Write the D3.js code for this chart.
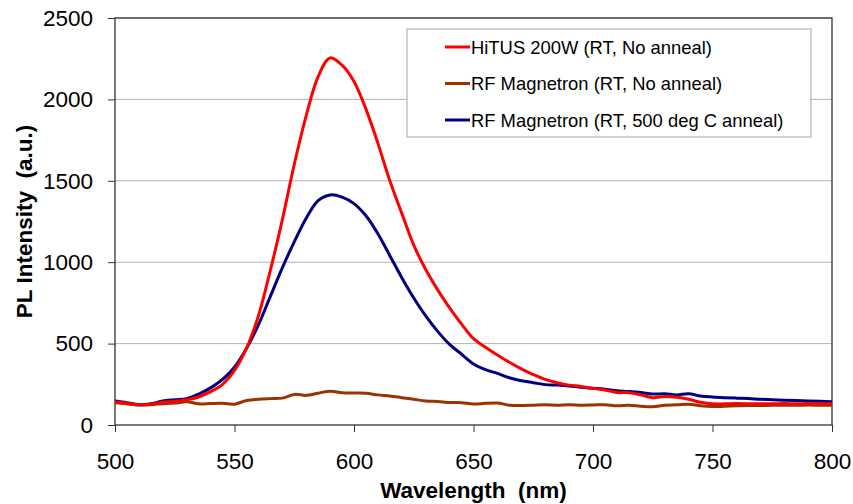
<!DOCTYPE html>
<html>
<head>
<meta charset="utf-8">
<script src="https://cdn.jsdelivr.net/npm/d3@7"></script>
<style>
  body { margin: 0; background: #fff; }
  svg text { font-family: Arial, "Liberation Sans", sans-serif; }
</style>
</head>
<body>
<div id="chart"></div>
<script>
// PL spectra: HiTUS vs RF magnetron films

const wavelengths = [500,505,510,515,520,525,530,535,540,545,550,555,560,565,570,575,580,585,590,595,
  600,605,610,615,620,625,630,635,640,645,650,655,660,665,670,675,680,685,690,695,
  700,705,710,715,720,725,730,735,740,745,750,755,760,765,770,775,780,785,790,795,800];

const hitus = [142,133,124,128,140,146,155,172,205,250,335,470,670,950,1260,1600,1900,2140,2255,2210,
  2110,1940,1730,1500,1300,1105,955,830,720,620,530,478,430,385,345,310,280,260,245,237,
  225,215,200,198,185,168,175,170,158,140,130,130,132,130,130,130,132,130,132,130,130];

const rfNoAnneal = [137,130,123,125,130,135,143,130,132,133,128,150,158,162,165,188,182,195,208,198,
  196,195,185,178,168,158,148,145,138,137,129,133,135,122,120,122,124,122,125,122,
  123,125,118,121,115,112,122,124,128,118,113,115,118,120,120,121,122,121,123,121,121];

const rfAnneal = [147,137,125,130,148,155,162,190,228,280,355,470,615,790,965,1125,1270,1378,1413,1400,
  1360,1285,1175,1040,905,780,670,575,495,435,375,340,317,290,272,260,248,245,240,232,
  226,220,210,206,200,190,192,185,192,178,172,168,165,163,158,155,152,150,148,146,143];

const xTicks = [500,550,600,650,700,750,800];
const yTicks = [0,500,1000,1500,2000,2500];

const SERIES = [
  { name: 'HiTUS 200W (RT, No anneal)', values: hitus, color: '#ff0000' },
  { name: 'RF Magnetron (RT, No anneal)', values: rfNoAnneal, color: '#993300' },
  { name: 'RF Magnetron (RT, 500 deg C anneal)', values: rfAnneal, color: '#000080' },
];

const width = 853, height = 504;
const margin = { top: 18, right: 21, bottom: 79, left: 115 };
const W = width - margin.left - margin.right;
const H = height - margin.top - margin.bottom;

const x = d3.scaleLinear().domain([500, 800]).range([0, W]);
const y = d3.scaleLinear().domain([0, 2500]).range([H, 0]);

const svg = d3.select('#chart').append('svg')
  .attr('width', width).attr('height', height);

const g = svg.append('g').attr('transform', `translate(${margin.left},${margin.top})`);

// gridlines
g.append('g').selectAll('line').data(yTicks.slice(1)).join('line')
  .attr('x1', 0).attr('x2', W)
  .attr('y1', d => y(d)).attr('y2', d => y(d))
  .attr('stroke', '#b3b3b3').attr('stroke-width', 1);

// axes
const xAxis = g.append('g').attr('transform', `translate(0,${H})`)
  .call(d3.axisBottom(x).tickValues(xTicks).tickFormat(d3.format('d'))
    .tickSize(7).tickSizeOuter(0).tickPadding(21));
const yAxis = g.append('g')
  .call(d3.axisLeft(y).tickValues(yTicks).tickFormat(d3.format('d'))
    .tickSize(7).tickSizeOuter(0).tickPadding(15));

[xAxis, yAxis].forEach(a => {
  a.select('.domain').remove();
  a.selectAll('line').attr('stroke', '#333');
  a.selectAll('text').attr('fill', '#000').attr('font-size', '22.5px')
    .style('font-family', 'Arial, "Liberation Sans", sans-serif');
});

// plot frame
g.append('rect').attr('x', 0).attr('y', 0).attr('width', W).attr('height', H)
  .attr('fill', 'none').attr('stroke', '#333').attr('stroke-width', 1.3);

// lines
const line = vals => d3.line()
  .x((d, i) => x(wavelengths[i])).y(d => y(d))
  .curve(d3.curveCatmullRom.alpha(0.5))(vals);

g.append('g').selectAll('path').data(SERIES.slice().reverse()).join('path')
  .attr('fill', 'none')
  .attr('stroke', d => d.color).attr('stroke-width', 3)
  .attr('stroke-linejoin', 'round')
  .attr('d', d => line(d.values));

// axis titles
svg.append('text')
  .attr('x', margin.left + W / 2).attr('y', 498)
  .attr('text-anchor', 'middle').attr('font-size', '22.5px').attr('font-weight', 'bold')
  .style('white-space', 'pre')
  .text('Wavelength  (nm)');

svg.append('text')
  .attr('transform', `translate(32,${margin.top + H / 2}) rotate(-90)`)
  .attr('text-anchor', 'middle').attr('font-size', '22.5px').attr('font-weight', 'bold')
  .style('white-space', 'pre')
  .text('PL Intensity  (a.u.)');

// legend
const leg = svg.append('g').attr('transform', 'translate(407,29)');
leg.append('rect').attr('width', 404).attr('height', 108)
  .attr('fill', '#fff').attr('stroke', '#a6a6a6').attr('stroke-width', 1);
SERIES.forEach((s, i) => {
  const ly = 18 + i * 36.5;
  leg.append('line').attr('x1', 38).attr('x2', 63).attr('y1', ly).attr('y2', ly)
    .attr('stroke', s.color).attr('stroke-width', 3);
  leg.append('text').attr('x', 64).attr('y', ly).attr('dy', '0.36em')
    .attr('font-size', '18.4px').attr('fill', '#000')
    .text(s.name);
});
</script>
</body>
</html>
